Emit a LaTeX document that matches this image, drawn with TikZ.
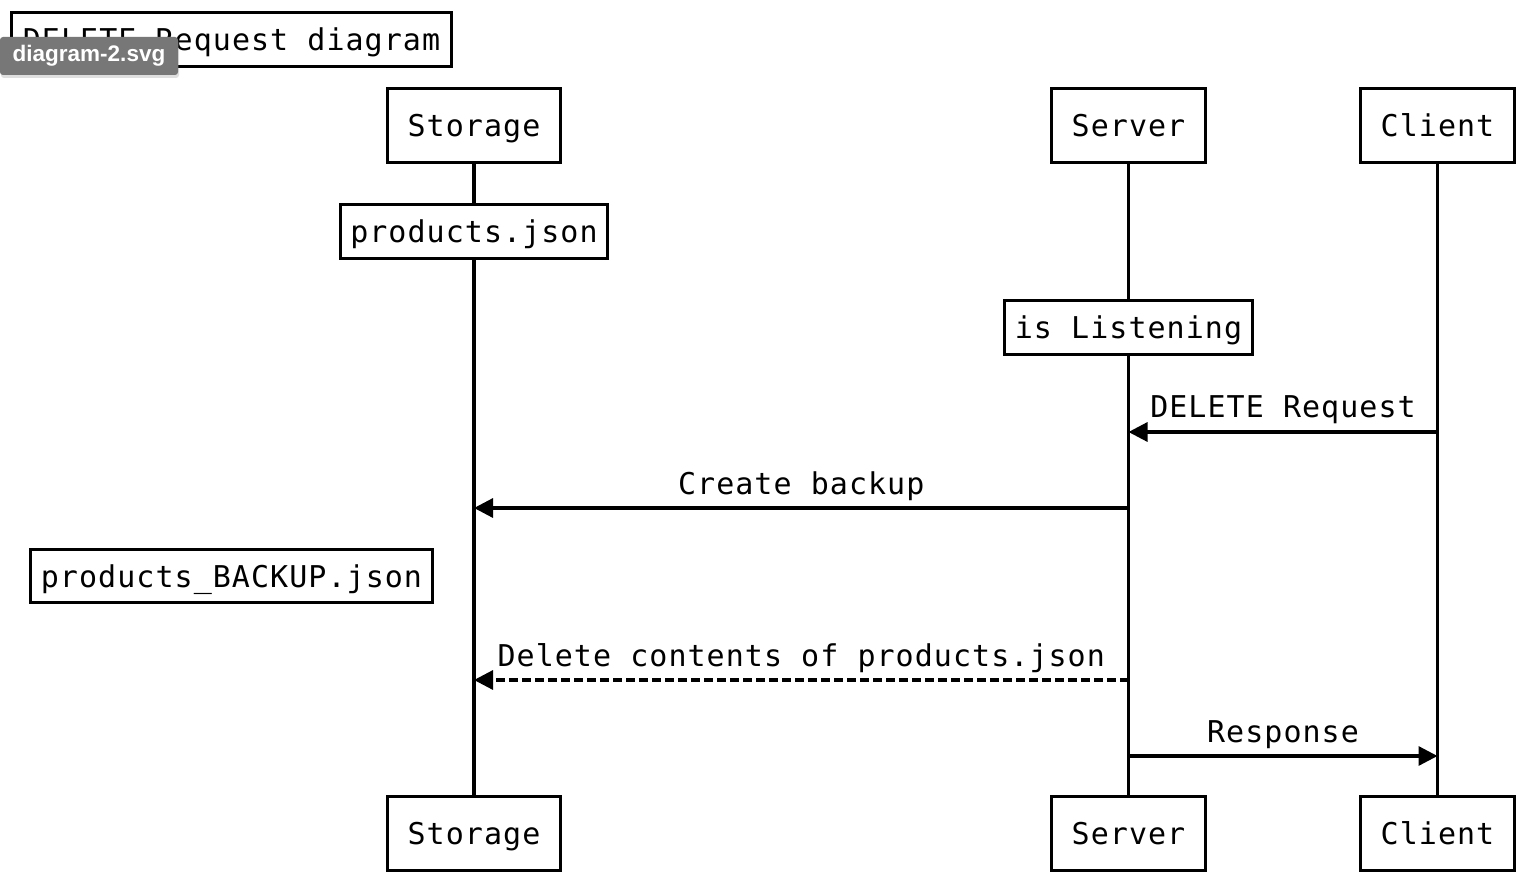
\documentclass[tikz,border=0pt]{standalone}
\usepackage{fontspec}
\setmainfont{DejaVu Sans Mono}[LetterSpace=3.5]
\newfontfamily\badgefont{Liberation Sans}[LetterSpace=0]
\usetikzlibrary{arrows.meta,shadows}
\definecolor{badgegray}{HTML}{777777}
\begin{document}
\begin{tikzpicture}[x=1pt,y=-1pt,
  box/.style={draw,line width=3.5pt,inner sep=0pt,fill=white,
    font=\fontsize{30}{36}\selectfont,text height=22pt,text depth=0pt},
  life/.style={line width=3.2pt},
  msg/.style={line width=3.2pt,-{Triangle[length=19pt,width=19pt]}},
  lbl/.style={anchor=base,inner sep=0pt,font=\fontsize{30}{36}\selectfont},
  badge/.style={fill=badgegray,rounded corners=3pt,inner sep=0pt,
    minimum width=178pt,minimum height=38pt,text=white,
    font=\badgefont\bfseries\fontsize{22.5}{26}\selectfont,
    drop shadow={shadow xshift=1pt,shadow yshift=-3pt,opacity=0.25}}
]
\useasboundingbox (0,0) rectangle (1526,880);
\fill[white] (0,0) rectangle (1526,880);

\node[box,minimum width=173pt,minimum height=74pt] (stT) at (474,125.5) {Storage};
\node[box,minimum width=154pt,minimum height=74pt] (svT) at (1128.5,125.5) {Server};
\node[box,minimum width=154pt,minimum height=74pt] (clT) at (1437.5,125.5) {Client};
\node[box,minimum width=173pt,minimum height=74pt] (stB) at (474,833.5) {Storage};
\node[box,minimum width=154pt,minimum height=74pt] (svB) at (1128.5,833.5) {Server};
\node[box,minimum width=154pt,minimum height=74pt] (clB) at (1437.5,833.5) {Client};
\node[box,minimum width=267pt,minimum height=54pt] (pj) at (474,231.5) {products.json};
\node[box,minimum width=248pt,minimum height=54pt] (lis) at (1128.5,327.5) {is Listening};
\node[box,minimum width=402pt,minimum height=53pt] (bk) at (231.5,576) {products\_BACKUP.json};
\node[box,minimum width=440pt,minimum height=54pt] (title) at (231.5,39.5) {DELETE Request diagram};

\draw[life] (stT.south) -- (pj.north);
\draw[life] (pj.south) -- (stB.north);
\draw[life] (svT.south) -- (lis.north);
\draw[life] (lis.south) -- (svB.north);
\draw[life] (clT.south) -- (clB.north);

\coordinate (m1s) at (clT.south |- 0,432);
\coordinate (m1e) at (svT.south |- 0,432);
\coordinate (m2s) at (svT.south |- 0,508);
\coordinate (m2e) at (stT.south |- 0,508);
\coordinate (m3s) at (svT.south |- 0,680);
\coordinate (m3e) at (stT.south |- 0,680);
\coordinate (m4s) at (svT.south |- 0,756);
\coordinate (m4e) at (clT.south |- 0,756);

\draw[msg] (m1s) -- node[lbl,yshift=15pt] (l1) {DELETE Request} (m1e);
\draw[msg] (m2s) -- node[lbl,yshift=14pt] (l2) {Create backup} (m2e);
\draw[msg,dash pattern=on 9pt off 4pt] (m3s) -- node[lbl,yshift=14pt] (l3) {Delete contents of products.json} (m3e);
\draw[msg] (m4s) -- node[lbl,yshift=14pt] (l4) {Response} (m4e);

\node[badge] (bdg) at (89,56) {diagram-2.svg};
\end{tikzpicture}
\end{document}
